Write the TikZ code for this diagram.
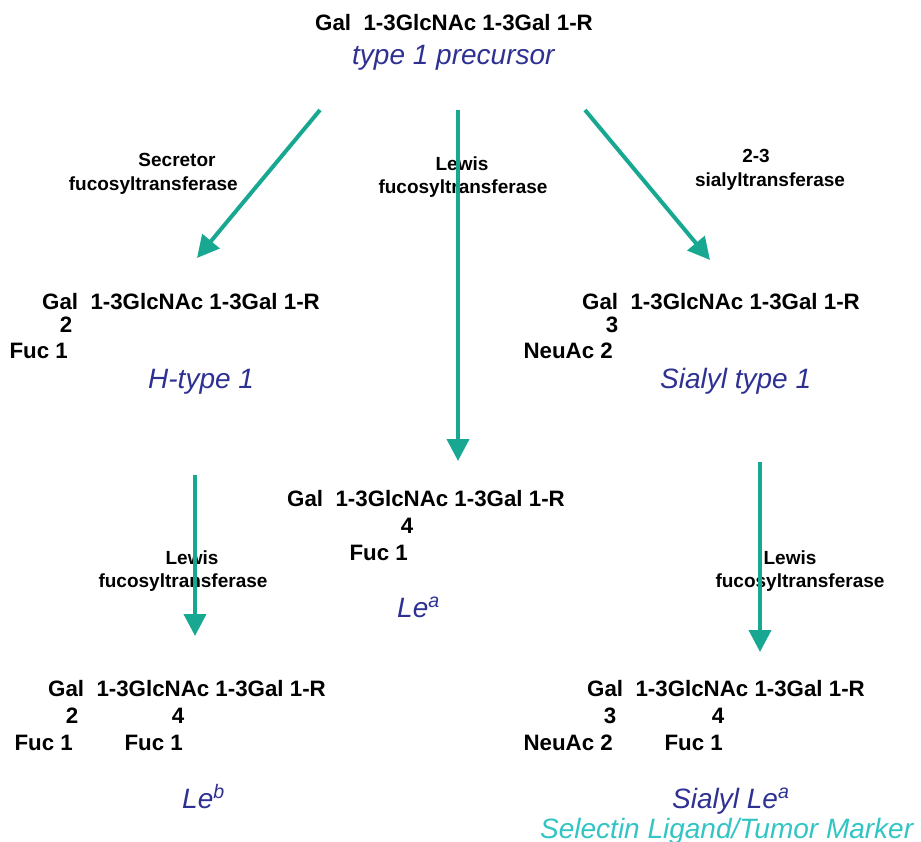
\documentclass[tikz,border=0pt]{standalone}
\usepackage{fontspec}
\setmainfont{Liberation Sans}
\usetikzlibrary{arrows.meta}
\definecolor{teal1}{RGB}{24,168,146}
\definecolor{navy1}{RGB}{46,49,146}
\definecolor{cyan1}{RGB}{51,196,196}
\begin{document}
\begin{tikzpicture}[x=1pt,y=-1pt,
 chain/.style={font=\fontsize{22.3}{26}\selectfont\bfseries, inner sep=0pt, anchor=base west},
 num/.style={font=\fontsize{22.3}{26}\selectfont\bfseries, inner sep=0pt, anchor=base},
 sug/.style={font=\fontsize{22.3}{26}\selectfont\bfseries, inner sep=0pt, anchor=base east},
 gname/.style={font=\fontsize{28}{32}\selectfont\itshape, text=navy1, inner sep=0pt, anchor=base west},
 enz/.style={font=\fontsize{19}{22}\selectfont\bfseries, inner sep=0pt, anchor=base},
 flow/.style={draw=teal1, line width=4pt, -{Triangle[length=22pt,width=22pt]}}]
\useasboundingbox (0,0) rectangle (921,842);

% top precursor
\node[chain] (t0) at (315,31) {Gal\ \ 1-3GlcNAc 1-3Gal 1-R};
\node[gname] (t0n) at (352,65) {type 1 precursor};

% H-type 1
\node[chain] (h0) at (42,309) {Gal\ \ 1-3GlcNAc 1-3Gal 1-R};
\node[num] (h2) at (66,333) {2};
\node[sug] (hf) at (68,358) {Fuc 1};
\node[gname] (hn) at (148,388) {H-type 1};

% Sialyl type 1
\node[chain] (s0) at (582,309) {Gal\ \ 1-3GlcNAc 1-3Gal 1-R};
\node[num] (s3) at (612,333) {3};
\node[sug] (sn) at (613,358) {NeuAc 2};
\node[gname] (snn) at (660,388) {Sialyl type 1};

% Le a
\node[chain] (a0) at (287,506) {Gal\ \ 1-3GlcNAc 1-3Gal 1-R};
\node[num] (a4) at (407,533) {4};
\node[sug] (af) at (408,560) {Fuc 1};
\node[gname] (an) at (397,617) {Le\textsuperscript{a}};

% Le b
\node[chain] (b0) at (48,696) {Gal\ \ 1-3GlcNAc 1-3Gal 1-R};
\node[num] (b2) at (72,723) {2};
\node[num] (b4) at (178,723) {4};
\node[sug] (bf1) at (73,750) {Fuc 1};
\node[sug] (bf2) at (183,750) {Fuc 1};
\node[gname] (bn) at (182,808) {Le\textsuperscript{b}};

% Sialyl Le a
\node[chain] (c0) at (587,696) {Gal\ \ 1-3GlcNAc 1-3Gal 1-R};
\node[num] (c3) at (610,723) {3};
\node[num] (c4) at (718,723) {4};
\node[sug] (cn) at (613,750) {NeuAc 2};
\node[sug] (cf) at (723,750) {Fuc 1};
\node[gname] (cnn) at (672,808) {Sialyl Le\textsuperscript{a}};
\node[gname, text=cyan1] (cm) at (540,838) {Selectin Ligand/Tumor Marker};

% enzyme labels
\node[enz] (e1a) at (177,167) {Secretor};
\node[enz, anchor=base east] (e1b) at (238,191) {fucosyltransferase};
\node[enz] (e2a) at (462,171) {Lewis};
\node[enz] (e2b) at (463,194) {fucosyltransferase};
\node[enz] (e3a) at (756,163) {2-3};
\node[enz] (e3b) at (770,187) {sialyltransferase};
\node[enz] (e4a) at (192,564) {Lewis};
\node[enz] (e4b) at (183,587) {fucosyltransferase};
\node[enz] (e5a) at (790,564) {Lewis};
\node[enz] (e5b) at (800,587) {fucosyltransferase};

% arrows
\coordinate (p1s) at (320,110); \coordinate (p1e) at (197,258);
\coordinate (p2s) at (458,110); \coordinate (p2e) at (458,461);
\coordinate (p3s) at (585,110); \coordinate (p3e) at (710,260);
\coordinate (p4s) at (195,475); \coordinate (p4e) at (195,636);
\coordinate (p5s) at (760,462); \coordinate (p5e) at (760,652);
\draw[flow] (p1s) -- (p1e);
\draw[flow] (p2s) -- (p2e);
\draw[flow] (p3s) -- (p3e);
\draw[flow] (p4s) -- (p4e);
\draw[flow] (p5s) -- (p5e);
\end{tikzpicture}
\end{document}
